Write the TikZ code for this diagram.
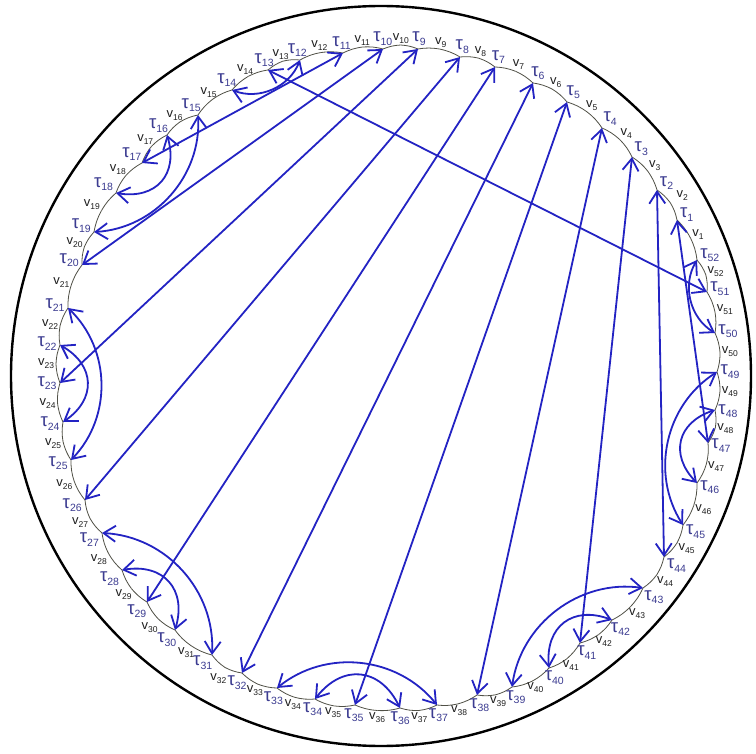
\documentclass[tikz,border=0pt]{standalone}
\usepackage{fontspec}
\setmainfont{Liberation Sans}
\usetikzlibrary{arrows.meta,calc}
\definecolor{arr}{RGB}{35,35,195}
\definecolor{tcol}{RGB}{60,60,145}
\definecolor{vcol}{RGB}{30,30,30}
\definecolor{wcol}{RGB}{80,80,70}
\newcommand\tlab[1]{{\fontsize{18.5}{18.5}\selectfont τ}\raisebox{-3.5pt}{\fontsize{10.5}{10.5}\selectfont #1}}
\newcommand\vlab[1]{{\fontsize{13}{13}\selectfont v}\raisebox{-3pt}{\fontsize{8.5}{8.5}\selectfont #1}}
\tikzset{
  >={Straight Barb[length=12pt,width=16pt]},
  chord/.style={draw=arr, line width=1.8pt, <->},
  wavy/.style={draw=wcol, line width=0.8pt},
  tlabst/.style={text=tcol, inner sep=0.3pt},
  vlabst/.style={text=vcol, inner sep=0.2pt},
}
\begin{document}
\begin{tikzpicture}[x=1pt,y=-1pt]
\useasboundingbox (0,0) rectangle (756,754);
\fill[white] (0,0) rectangle (756,754);
\coordinate (c) at (389,378);
\draw[line width=2.4pt] (381,376) circle[radius=370pt];
\foreach \i/\x/\y in {1/677/220, 2/657/190, 3/632/157, 4/602/128, 5/567/102, 6/533/83, 7/495/67, 8/460/57, 9/418/49, 10/383/49, 11/343/53, 12/300/60, 13/268/70, 14/232/90, 15/198/115, 16/167/135, 17/142/163, 18/116/193, 19/94/232, 20/82/265, 21/68/308, 22/60/345, 23/60/383, 24/63/422, 25/71/460, 26/85/500, 27/102/533, 28/122/570, 29/147/602, 30/175/630, 31/212/655, 32/242/673, 33/277/688, 34/315/699, 35/355/705, 36/400/708, 37/437/705, 38/477/695, 39/512/687, 40/549/668, 41/580/643, 42/612/620, 43/643/588, 44/664/557, 45/683/525, 46/697/483, 47/708/443, 48/715/410, 49/717/372, 50/715/333, 51/707/292, 52/697/260} {
  \coordinate (t\i) at (\x,\y);
}
\foreach \i in {1,...,52} {
  \pgfmathtruncatemacro\j{ifthenelse(\i==1,52,\i-1)}
  \coordinate (m\i) at ($(t\j)!0.5!(t\i)$);
  \coordinate (v\i) at ($(m\i)!-4pt!(c)$);
}
\foreach \i in {1,...,52} {
  \pgfmathtruncatemacro\n{mod(\i,52)+1}
  \draw[wavy] (v\i) to[bend right=9] (t\i) to[bend right=9] (v\n);
}
\foreach \i in {1,...,52} {
  \path (t\i); \pgfgetlastxy{\px}{\py}
  \pgfmathsetmacro\ang{atan2(\py+378,\px-389)}
  \pgfmathsetmacro\anc{\ang+180}
  \pgfmathsetmacro\tsx{ifthenelse(\i==31,-3,0)}
  \pgfmathsetmacro\tsy{ifthenelse(\i==31,-2,0)}
  \node[tlabst, anchor=\anc] (lt\i) at ($(t\i)+(\ang:3pt)+(\tsx,\tsy)$) {\tlab{\i}};
  \path (v\i); \pgfgetlastxy{\qx}{\qy}
  \pgfmathsetmacro\bng{atan2(\qy+378,\qx-389)}
  \pgfmathsetmacro\bnc{\bng+180}
  \pgfmathsetmacro\vd{ifthenelse(\i==32||\i==2,7,ifthenelse(\i==30,5,1.5))}
  \node[vlabst, anchor=\bnc] (lv\i) at ($(v\i)+(\bng:\vd pt)$) {\vlab{\i}};
}
\foreach \a/\b in {1/47,2/44,3/41,4/38,5/35,6/32,7/29,8/26,9/23,10/20,11/17,13/51}
  \draw[chord] (t\a) -- (t\b);
\foreach \a/\b in {12/14,15/19,21/25,27/31,33/37,39/43,45/49,50/52}
  \draw[chord] (t\a) to[bend left=45] (t\b);
\foreach \a/\b in {16/18,22/24,28/30,34/36,40/42,46/48}
  \draw[chord] (t\a) to[bend left=58,looseness=1.35] (t\b);
\end{tikzpicture}
\end{document}
